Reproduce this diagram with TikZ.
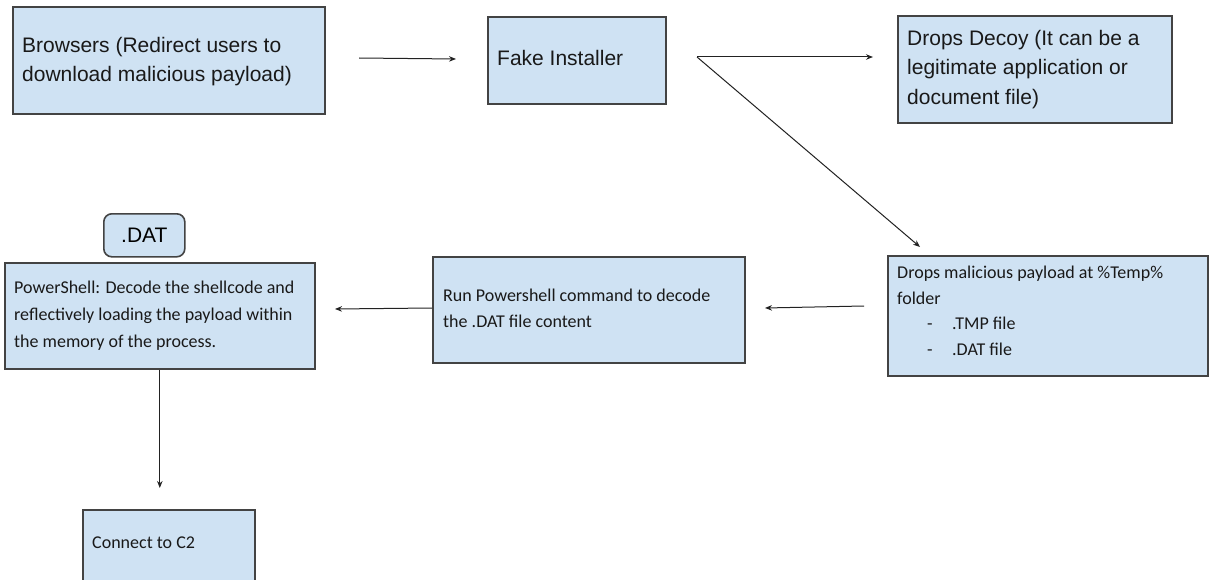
\documentclass[tikz,border=0pt]{standalone}
\usepackage{fontspec}
\setmainfont{Liberation Sans}
\newfontfamily\arialf{Liberation Sans}
\newfontfamily\calf{Carlito}
\usetikzlibrary{arrows.meta}
\definecolor{boxfill}{HTML}{CFE2F3}
\definecolor{boxline}{HTML}{434343}
\definecolor{arrowc}{HTML}{222222}
\begin{document}
\begin{tikzpicture}[x=1pt,y=-1pt,
  box/.style={draw=boxline, fill=boxfill, line width=1.6pt, inner sep=0pt, anchor=north west},
  arr/.style={draw=arrowc, line width=1pt, -{Stealth[length=7pt,width=5.5pt]}},
  txtA/.style={font=\arialf\fontsize{21}{29.5}\selectfont, anchor=north west, inner sep=0pt, align=left, text=black!90},
  txtC/.style={font=\calf\fontsize{18}{25.5}\selectfont, anchor=north west, inner sep=0pt, align=left, text=black!90}]
\useasboundingbox (0,0) rectangle (1209,580);
\fill[white] (0,0) rectangle (1209,580);

% boxes
\node[box, minimum width=312pt, minimum height=107pt] (browsers) at (12,6) {};
\node[box, minimum width=178pt, minimum height=87pt] (fake) at (487,16) {};
\node[box, minimum width=274pt, minimum height=107pt] (decoy) at (897,15) {};
\node[box, minimum width=320pt, minimum height=120pt] (drops) at (887,255) {};
\node[box, minimum width=312pt, minimum height=106pt] (run) at (432,256) {};
\node[box, minimum width=310pt, minimum height=106pt] (ps) at (4,262) {};
\node[box, minimum width=172pt, minimum height=80pt] (c2) at (82,509) {};
\node[box, rounded corners=8pt, minimum width=81pt, minimum height=43pt,
      font=\arialf\fontsize{21}{25}\selectfont] (dat) at (103,213) {.DAT};

% box texts
\node[txtA] (tbrowsers) at (22,37) {Browsers (Redirect users to\\download malicious payload)};
\node[txtA] (tfake) at (497,50) {Fake Installer};
\node[txtA] (tdecoy) at (907,30) {Drops Decoy (It can be a\\legitimate application or\\document file)};
\node[txtC] (tdrops) at (897,266) {Drops malicious payload at \%Temp\%\\folder\\
  \hspace*{30pt}\makebox[25pt][l]{-}.TMP file\\
  \hspace*{30pt}\makebox[25pt][l]{-}.DAT file};
\node[txtC] (trun) at (443,289) {Run Powershell command to decode\\the .DAT file content};
\node[txtC, font=\calf\fontsize{18}{27}\selectfont] (tps) at (14,281) {PowerShell: Decode the shellcode and\\reflectively loading the payload within\\the memory of the process.};
\node[txtC] (tc2) at (92,537) {Connect to C2};

% connector end points
\coordinate (a1s) at (359,58);
\coordinate (a1e) at (456,59);
\coordinate (fork) at (697,57);
\coordinate (decoyin) at (873,57);
\coordinate (dropsin) at (920,247);
\coordinate (dropsout) at (864,306);
\coordinate (runin) at (765,308);
\coordinate (psin) at (335,309);
\coordinate (c2in) at (ps.south |- 0,488);

% connectors
\draw[arr] (a1s) -- (a1e);
\draw[arr] (fork) -- (decoyin);
\draw[arr] (fork) -- (dropsin);
\draw[arr] (dropsout) -- (runin);
\draw[arr] (run.west |- 0,308) -- (psin);
\draw[arr] (ps.south) -- (c2in);
\end{tikzpicture}
\end{document}
